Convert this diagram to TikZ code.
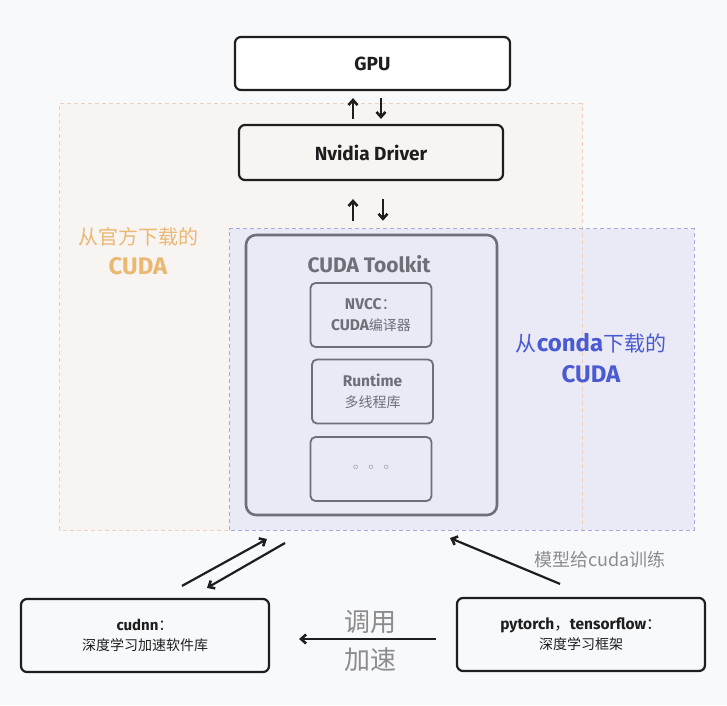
\documentclass[tikz,border=0pt]{standalone}
\usepackage{fontspec}
\setmainfont{Fira Sans}
\newfontfamily\cjk{Noto Sans CJK SC}
\newfontfamily\symfont{DejaVu Sans}
\usetikzlibrary{arrows.meta}

\definecolor{bgcol}{HTML}{F8F9FB}
\definecolor{offfill}{HTML}{F8F4F2}
\definecolor{offline}{HTML}{F0D0BC}
\definecolor{condafill}{HTML}{E9EAF6}
\definecolor{condaline}{HTML}{A5A9DF}
\definecolor{offtxt}{HTML}{E9B872}
\definecolor{condatxt}{HTML}{4A5AD2}
\definecolor{kitgray}{HTML}{6F6F78}
\definecolor{notegray}{HTML}{8C8C8C}
\definecolor{inkblack}{HTML}{1E1E1E}

\begin{document}
\begin{tikzpicture}[
    x=1pt, y=-1pt,
    box/.style={draw=inkblack, line width=2.2pt, rounded corners=6pt,
        align=center, text=inkblack},
    inbox/.style={draw=kitgray, line width=1.8pt, rounded corners=5pt,
        align=center, text=kitgray, minimum width=121pt, minimum height=64pt,
        font=\bfseries\fontsize{15.5}{21}\selectfont},
    region/.style={dashed, line width=0.9pt, dash pattern=on 4pt off 3pt},
    ar/.style={-{Straight Barb[length=5pt,width=9pt,line width=2.6pt]}, line width=2.2pt, draw=inkblack},
    note/.style={text=notegray, align=center}
]
\useasboundingbox (0,0) rectangle (727,705);
\fill[bgcol] (0,0) rectangle (727,705);

% download regions
\node[fill=offfill, minimum width=522pt, minimum height=426pt, inner sep=0pt] (offreg) at (321,317) {};
\node[fill=condafill, minimum width=464pt, minimum height=301pt, inner sep=0pt] (condareg) at (462,379.5) {};
\draw[region, draw=offline] (offreg.south west) rectangle (offreg.north east);
\draw[region, draw=condaline] (condareg.south west) rectangle (condareg.north east);

\node[text=offtxt, align=center, font=\bfseries\fontsize{24}{30}\selectfont] (offlbl) at (138,251)
    {{\cjk\mdseries\fontsize{20}{30}\selectfont 从官方下载的}\\CUDA};
\node[text=condatxt, align=center, font=\bfseries\fontsize{24}{31}\selectfont] (condalbl) at (591,358.5)
    {{\cjk\mdseries\fontsize{21}{31}\selectfont 从}conda{\cjk\mdseries\fontsize{21}{31}\selectfont 下载的}\\CUDA};

% driver stack
\node[box, fill=white, minimum width=275pt, minimum height=53pt,
    font=\bfseries\fontsize{19}{22}\selectfont] (gpu) at (372.5,63.5) {GPU};
\node[box, minimum width=264pt, minimum height=55pt,
    font=\bfseries\fontsize{19}{22}\selectfont] (drv) at (371,152.5) {Nvidia Driver};

% toolkit
\node[draw=kitgray, line width=2.6pt, rounded corners=10pt, minimum width=251pt,
    minimum height=280pt] (kit) at (371.5,375) {};
\node[text=kitgray, font=\bfseries\fontsize{21}{24}\selectfont] (kittitle) at (369,264) {CUDA Toolkit};
\node[inbox] (nvcc) at (371,315) {NVCC{\cjk\mdseries ：}\\CUDA{\cjk\mdseries\fontsize{14}{21}\selectfont 编译器}};
\node[inbox] (rt) at (372.5,391.5) {Runtime\\{\cjk\mdseries\fontsize{14}{21}\selectfont 多线程库}};
\node[inbox, font=\symfont\fontsize{14}{16}\selectfont] (more) at (371,469) {◦\hspace{7pt}◦\hspace{7pt}◦};

% libraries
\node[box, minimum width=248pt, minimum height=73pt,
    font=\bfseries\fontsize{15}{20}\selectfont] (cudnn) at (145,635.5)
    {cudnn{\cjk\mdseries ：}\\{\cjk\mdseries\fontsize{14}{20}\selectfont 深度学习加速软件库}};
\node[box, minimum width=248pt, minimum height=73pt,
    font=\bfseries\fontsize{15.5}{20}\selectfont] (pyt) at (581,634.5)
    {pytorch{\cjk\mdseries ，}tensorflow{\cjk\mdseries ：}\\{\cjk\mdseries\fontsize{14}{20}\selectfont 深度学习框架}};

% free ends at the toolkit region
\coordinate (kitin) at (267,539);
\coordinate (kitout) at (285,543);
\coordinate (kittrain) at (450,538);

% connectors
\draw[ar, shorten <=5pt, shorten >=7pt] ([xshift=-18pt]drv.north) -- ([xshift=-18pt]drv.north |- gpu.south);
\draw[ar, shorten <=7pt, shorten >=5pt] ([xshift=10pt]drv.north |- gpu.south) -- ([xshift=10pt]drv.north);
\draw[ar, shorten <=13pt, shorten >=18pt] ([xshift=-18pt]drv.south |- kit.north) -- ([xshift=-18pt]drv.south);
\draw[ar, shorten <=18pt, shorten >=13pt] ([xshift=12pt]drv.south) -- ([xshift=12pt]drv.south |- kit.north);
\draw[ar] ([xshift=37pt,yshift=12pt]cudnn.north) -- (kitin);
\draw[ar] (kitout) -- ([xshift=62pt,yshift=10pt]cudnn.north);
\draw[ar] ([xshift=-21pt,yshift=13pt]pyt.north) -- (kittrain);
\draw[ar, shorten <=20pt, shorten >=29pt] ([yshift=-4.5pt]pyt.west) -- ([yshift=-4.5pt]pyt.west -| cudnn.east);

\node[note, font=\cjk\fontsize{18}{20}\selectfont] (trainlbl) at (600,560) {模型给cuda训练};
\node[note, font=\cjk\fontsize{26}{28}\selectfont] (calllbl) at (370,622) {调用};
\node[note, font=\cjk\fontsize{26}{28}\selectfont] (speedlbl) at (370,660) {加速};
\end{tikzpicture}
\end{document}
